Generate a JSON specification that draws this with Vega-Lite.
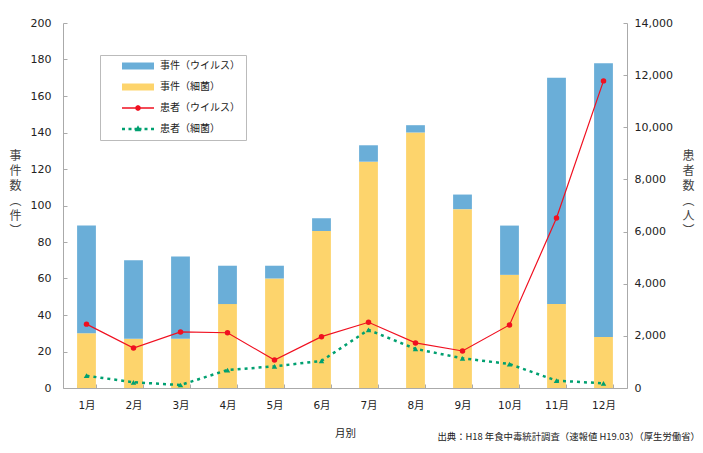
{
  "$schema": "https://vega.github.io/schema/vega-lite/v6.json",
  "width": 564,
  "height": 365,
  "autosize": "none",
  "padding": {"left": 63, "top": 23, "right": 76, "bottom": 65},
  "background": "white",
  "config": {
    "view": {"stroke": null},
    "font": "Noto Sans CJK JP",
    "axis": {
      "grid": false,
      "domainColor": "#aaaaaa",
      "tickColor": "#aaaaaa",
      "tickSize": -4,
      "labelFont": "DejaVu Sans, Noto Sans CJK JP",
      "labelFontSize": 11,
      "labelColor": "#222222",
      "titleFont": "Noto Sans CJK JP",
      "titleFontSize": 12,
      "titleFontWeight": "normal",
      "titleColor": "#444444"
    }
  },
  "title": {
    "text": "出典：H18 年食中毒統計調査（速報値 H19.03）（厚生労働省）",
    "orient": "bottom",
    "anchor": "end",
    "frame": "group",
    "font": "Noto Sans CJK JP",
    "fontSize": 9.4,
    "fontWeight": "normal",
    "color": "#222222",
    "dx": 73,
    "dy": -6,
    "offset": 0
  },
  "data": {
    "values": [
      {"month": "1月", "series": "事件（細菌）", "value": 30},
      {"month": "2月", "series": "事件（細菌）", "value": 27},
      {"month": "3月", "series": "事件（細菌）", "value": 27},
      {"month": "4月", "series": "事件（細菌）", "value": 46},
      {"month": "5月", "series": "事件（細菌）", "value": 60},
      {"month": "6月", "series": "事件（細菌）", "value": 86},
      {"month": "7月", "series": "事件（細菌）", "value": 124},
      {"month": "8月", "series": "事件（細菌）", "value": 140},
      {"month": "9月", "series": "事件（細菌）", "value": 98},
      {"month": "10月", "series": "事件（細菌）", "value": 62},
      {"month": "11月", "series": "事件（細菌）", "value": 46},
      {"month": "12月", "series": "事件（細菌）", "value": 28},
      {"month": "1月", "series": "事件（ウイルス）", "value": 59},
      {"month": "2月", "series": "事件（ウイルス）", "value": 43},
      {"month": "3月", "series": "事件（ウイルス）", "value": 45},
      {"month": "4月", "series": "事件（ウイルス）", "value": 21},
      {"month": "5月", "series": "事件（ウイルス）", "value": 7},
      {"month": "6月", "series": "事件（ウイルス）", "value": 7},
      {"month": "7月", "series": "事件（ウイルス）", "value": 9},
      {"month": "8月", "series": "事件（ウイルス）", "value": 4},
      {"month": "9月", "series": "事件（ウイルス）", "value": 8},
      {"month": "10月", "series": "事件（ウイルス）", "value": 27},
      {"month": "11月", "series": "事件（ウイルス）", "value": 124},
      {"month": "12月", "series": "事件（ウイルス）", "value": 150},
      {"month": "1月", "series": "患者（ウイルス）", "value": 2450},
      {"month": "2月", "series": "患者（ウイルス）", "value": 1530},
      {"month": "3月", "series": "患者（ウイルス）", "value": 2150},
      {"month": "4月", "series": "患者（ウイルス）", "value": 2120},
      {"month": "5月", "series": "患者（ウイルス）", "value": 1070},
      {"month": "6月", "series": "患者（ウイルス）", "value": 1970},
      {"month": "7月", "series": "患者（ウイルス）", "value": 2520},
      {"month": "8月", "series": "患者（ウイルス）", "value": 1730},
      {"month": "9月", "series": "患者（ウイルス）", "value": 1420},
      {"month": "10月", "series": "患者（ウイルス）", "value": 2420},
      {"month": "11月", "series": "患者（ウイルス）", "value": 6520},
      {"month": "12月", "series": "患者（ウイルス）", "value": 11780},
      {"month": "1月", "series": "患者（細菌）", "value": 470},
      {"month": "2月", "series": "患者（細菌）", "value": 220},
      {"month": "3月", "series": "患者（細菌）", "value": 115},
      {"month": "4月", "series": "患者（細菌）", "value": 690},
      {"month": "5月", "series": "患者（細菌）", "value": 830},
      {"month": "6月", "series": "患者（細菌）", "value": 1040},
      {"month": "7月", "series": "患者（細菌）", "value": 2230},
      {"month": "8月", "series": "患者（細菌）", "value": 1500},
      {"month": "9月", "series": "患者（細菌）", "value": 1140},
      {"month": "10月", "series": "患者（細菌）", "value": 920},
      {"month": "11月", "series": "患者（細菌）", "value": 280},
      {"month": "12月", "series": "患者（細菌）", "value": 180}
    ]
  },
  "encoding": {
    "x": {
      "field": "month",
      "type": "ordinal",
      "sort": ["1月","2月","3月","4月","5月","6月","7月","8月","9月","10月","11月","12月"],
      "scale": {"paddingInner": 0.6, "paddingOuter": 0.3},
      "axis": {
        "title": "月別",
        "labelAngle": 0,
        "tickBand": "extent",
        "labelPadding": 16,
        "labelFontSize": 10.5,
        "titlePadding": 18,
        "titleFontSize": 10.5,
        "titleColor": "#222222"
      }
    }
  },
  "layer": [
    {
      "transform": [{"filter": "indexof(datum.series, '事件') === 0"}],
      "mark": {"type": "bar"},
      "encoding": {
        "y": {
          "field": "value",
          "type": "quantitative",
          "stack": "zero",
          "scale": {"domain": [0, 200], "nice": false},
          "axis": {
            "orient": "left",
            "values": [0, 20, 40, 60, 80, 100, 120, 140, 160, 180, 200],
            "labelPadding": 16,
            "title": ["事", "件", "数", "︵", "件", "︶"],
            "titleAngle": 0,
            "titleAlign": "center",
            "titleBaseline": "top",
            "titleLineHeight": 15,
            "titleX": -48,
            "titleY": 127
          }
        },
        "order": {"field": "series", "sort": "descending"},
        "color": {
          "field": "series",
          "type": "nominal",
          "scale": {
            "domain": ["事件（ウイルス）", "事件（細菌）", "患者（ウイルス）", "患者（細菌）"],
            "range": ["#6aaed8", "#fdd46c", "#f01020", "#00a070"]
          },
          "legend": {
            "orient": "none",
            "legendX": 37,
            "legendY": 32,
            "title": null,
            "padding": 6,
            "strokeColor": "#bbbbbb",
            "fillColor": "white",
            "symbolSize": 100,
            "symbolOffset": 16,
            "labelOffset": 28,
            "rowPadding": 11,
            "labelFont": "Noto Sans CJK JP",
            "labelFontSize": 10,
            "labelColor": "#222222",
            "labelLimit": 200,
            "encode": {
              "symbols": {
                "update": {
                  "shape": {"signal": "indexof(datum.value, '事件') === 0 ? 'M-1,-0.7H5.4V0.7H-1Z' : datum.value === '患者（ウイルス）' ? 'M-1,-0.13H5.4V0.13H-1Z M2.8,0L2.62,0.42L2.2,0.6L1.78,0.42L1.6,0L1.78,-0.42L2.2,-0.6L2.62,-0.42Z' : 'M-1,-0.25H-0.4V0.25H-1Z M0.3,-0.25H0.9V0.25H0.3Z M1.5,-0.25H2.9V0.25H1.5Z M2.2,-0.75L2.85,0.45H1.55Z M3.5,-0.25H4.1V0.25H3.5Z M4.8,-0.25H5.4V0.25H4.8Z'"},
                  "fill": {"signal": "datum.value === '事件（ウイルス）' ? '#6aaed8' : datum.value === '事件（細菌）' ? '#fdd46c' : datum.value === '患者（ウイルス）' ? '#f01020' : '#00a070'"},
                  "stroke": {"value": "transparent"},
                  "strokeWidth": {"value": 0},
                  "opacity": {"value": 1}
                }
              }
            }
          }
        }
      }
    },
    {
      "transform": [{"filter": "indexof(datum.series, '患者') === 0"}],
      "encoding": {
        "y": {
          "field": "value",
          "type": "quantitative",
          "scale": {"domain": [0, 14000], "nice": false},
          "axis": {
            "orient": "right",
            "values": [0, 2000, 4000, 6000, 8000, 10000, 12000, 14000],
            "format": ",.0f",
            "labelPadding": 11,
            "title": ["患", "者", "数", "︵", "人", "︶"],
            "titleAngle": 0,
            "titleAlign": "center",
            "titleBaseline": "top",
            "titleLineHeight": 15,
            "titleX": 61,
            "titleY": 127
          }
        },
        "color": {"field": "series", "type": "nominal"}
      },
      "layer": [
        {
          "transform": [{"filter": "datum.series === '患者（細菌）'"}],
          "mark": {"type": "line", "strokeWidth": 2.5, "strokeDash": [3, 4], "point": {"shape": "triangle-up", "filled": true, "size": 30, "opacity": 1}}
        },
        {
          "transform": [{"filter": "datum.series === '患者（ウイルス）'"}],
          "mark": {"type": "line", "strokeWidth": 1.2, "point": {"shape": "circle", "filled": true, "size": 30, "opacity": 1}}
        }
      ]
    }
  ],
  "resolve": {"scale": {"y": "independent"}}
}
